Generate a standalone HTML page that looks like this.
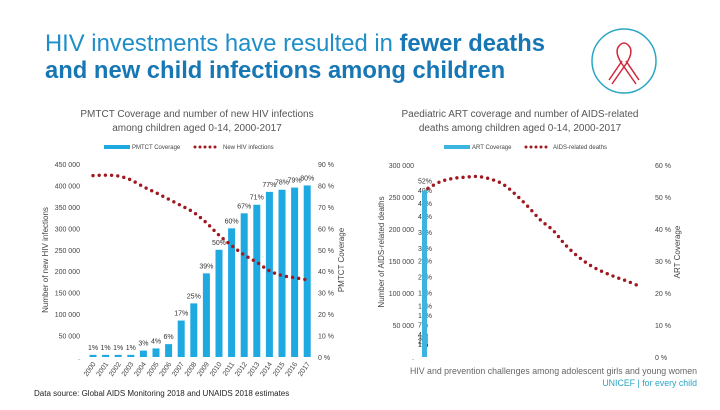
<!DOCTYPE html>
<html><head><meta charset="utf-8"><style>
body{margin:0;width:720px;height:405px;background:#fff;overflow:hidden;font-family:"Liberation Sans",sans-serif}
svg text{font-family:"Liberation Sans",sans-serif}
</style></head><body>
<svg width="720" height="405" viewBox="0 0 720 405">
<text x="45" y="51" font-size="23.8" fill="#1f8ec8">HIV investments have resulted in <tspan font-weight="bold" fill="#1777b4">fewer deaths</tspan></text>
<text x="45" y="78" font-size="23.8" font-weight="bold" fill="#1777b4">and new child infections among children</text>
<g>
<circle cx="624" cy="61" r="32" fill="none" stroke="#2aa6c4" stroke-width="1.5"/>
<path d="M612 84 L626 64 Q634 52 629 46 Q624 40 619 46 Q614 52 622 64 L636 84 M609 80 L622 61 M639 80 L626 61" fill="none" stroke="#d0283c" stroke-width="1.5"/>
</g>
<text x="197" y="117" font-size="10" fill="#555" text-anchor="middle">PMTCT Coverage and number of new HIV infections<tspan x="197" dy="14">among children aged 0-14, 2000-2017</tspan></text>
<text x="520" y="117" font-size="10" fill="#555" text-anchor="middle">Paediatric ART coverage and number of AIDS-related<tspan x="520" dy="14">deaths among children aged 0-14, 2000-2017</tspan></text>
<g id="left"></g>
<g id="right"></g>
<text x="34" y="396" font-size="8" fill="#222">Data source: Global AIDS Monitoring 2018 and UNAIDS 2018 estimates</text>
<text x="697" y="374" font-size="8.8" fill="#666" text-anchor="end">HIV and prevention challenges among adolescent girls and young women</text>
<text x="697" y="386" font-size="8.8" fill="#2aa6c4" text-anchor="end">UNICEF | for every child</text>
</svg>
<script>
const years=["2000","2001","2002","2003","2004","2005","2006","2007","2008","2009","2010","2011","2012","2013","2014","2015","2016","2017"];
const pmtctCoverage=[1,1,1,1,3,4,6,17,25,39,50,60,67,71,77,78,79,80];
const newInfections=[423000,424000,422000,413000,397000,383000,368000,353000,337000,313000,284000,260000,238000,221000,201000,190000,185000,180000];
const leftTicks=[0,50000,100000,150000,200000,250000,300000,350000,400000,450000];
const leftPctTicks=[0,10,20,30,40,50,60,70,80,90];
const artCoverage=[1,1,1,2,3,4,7,10,13,17,22,27,31,36,41,45,49,52];
const aidsDeaths=[263600,274000,279000,281000,282000,278000,270000,254000,235000,214000,198000,175000,157000,143000,133000,125000,118000,110000];
const rightTicks=[0,50000,100000,150000,200000,250000,300000];
const rightPctTicks=[0,10,20,30,40,50,60];
const NS="http://www.w3.org/2000/svg";
function mk(p,t,a,txt){const e=document.createElementNS(NS,t);for(const k in a)e.setAttribute(k,a[k]);if(txt!==undefined)e.textContent=txt;p.appendChild(e);return e;}
function fmt(v){if(v===0)return ".";const s=String(v);return s.slice(0,s.length-3)+" "+s.slice(-3);}
function path(pts){let d="M"+pts[0][0]+" "+pts[0][1];for(let i=1;i<pts.length;i++){const p0=pts[i-2]||pts[i-1],p1=pts[i-1],p2=pts[i],p3=pts[i+1]||p2;d+=" C"+(p1[0]+(p2[0]-p0[0])/6)+" "+(p1[1]+(p2[1]-p0[1])/6)+" "+(p2[0]-(p3[0]-p1[0])/6)+" "+(p2[1]-(p3[1]-p1[1])/6)+" "+p2[0]+" "+p2[1];}return d;}
// LEFT
const L=document.getElementById('left');
const y0=357,yT=164;
const yL=v=>y0-(v/450000)*(y0-yT);
const yLp=v=>y0-(v/90)*(y0-yT);
const xL=i=>93+i*12.6;
leftTicks.forEach(t=>{const e=mk(L,'text',{x:80,y:yL(t)+3,'font-size':7,fill:'#444','text-anchor':'end'},fmt(t));

});
leftPctTicks.forEach(t=>{const e=mk(L,'text',{x:318,y:yLp(t)+3,'font-size':7,fill:'#444'},t+" %");

});
pmtctCoverage.forEach((v,i)=>{const b=mk(L,'rect',{x:xL(i)-3.5,y:yLp(v),width:7,height:y0-yLp(v),fill:'#1ea9e1'});


const l=mk(L,'text',{x:xL(i),y:yLp(v)-5,'font-size':7,fill:'#333','text-anchor':'middle'},v+"%");


const x=mk(L,'text',{x:xL(i)+3,y:364,'font-size':7,fill:'#444','text-anchor':'end',transform:`rotate(-55 ${xL(i)+3} 364)`},years[i]);

});
const lp=mk(L,'path',{d:path(newInfections.map((v,i)=>[xL(i),yL(v)])),fill:'none',stroke:'#a01820','stroke-width':3.4,'stroke-linecap':'round','stroke-dasharray':'0 6.2'});


let t=mk(L,'text',{x:0,y:0,'font-size':8,fill:'#444','text-anchor':'middle',transform:'translate(48 260) rotate(-90)'},'Number of new HIV infections');

t=mk(L,'text',{x:0,y:0,'font-size':8,fill:'#444','text-anchor':'middle',transform:'translate(344 260) rotate(-90)'},'PMTCT Coverage');

let g=mk(L,'g',{});
mk(g,'rect',{x:104,y:145,width:26,height:4,fill:'#1ea9e1'});mk(g,'text',{x:132,y:149,'font-size':6,fill:'#444'},'PMTCT Coverage');
mk(g,'line',{x1:195,y1:147,x2:220,y2:147,stroke:'#a01820','stroke-width':3,'stroke-linecap':'round','stroke-dasharray':'0 5'});mk(g,'text',{x:223,y:149,'font-size':6,fill:'#444'},'New HIV infections');
// RIGHT
const R=document.getElementById('right');
const r0=357,rT=165;
const yR=v=>r0-(v/300000)*(r0-rT);
const yRp=v=>r0-(v/60)*(r0-rT);
const xR=i=>428+i*12.5;
rightTicks.forEach(t=>{const e=mk(R,'text',{x:414,y:yR(t)+3,'font-size':7,fill:'#444','text-anchor':'end'},fmt(t));

});
rightPctTicks.forEach(t=>{const e=mk(R,'text',{x:655,y:yRp(t)+3,'font-size':7,fill:'#444'},t+" %");

});
artCoverage.forEach((v,i)=>{const b=mk(R,'rect',{x:422,y:yRp(v),width:5,height:r0-yRp(v),fill:'#3bb4e0'});


const l=mk(R,'text',{x:418,y:yRp(v)-7,'font-size':7,fill:'#333'},v+"%");

});
const rp=mk(R,'path',{d:path(aidsDeaths.map((v,i)=>[xR(i),yR(v)])),fill:'none',stroke:'#a01820','stroke-width':3.4,'stroke-linecap':'round','stroke-dasharray':'0 6.2'});


t=mk(R,'text',{x:0,y:0,'font-size':8,fill:'#444','text-anchor':'middle',transform:'translate(384 252) rotate(-90)'},'Number of AIDS-related deaths');

t=mk(R,'text',{x:0,y:0,'font-size':8,fill:'#444','text-anchor':'middle',transform:'translate(680 252) rotate(-90)'},'ART Coverage');

g=mk(R,'g',{});
mk(g,'rect',{x:444,y:145,width:26,height:4,fill:'#3bb4e0'});mk(g,'text',{x:472,y:149,'font-size':6,fill:'#444'},'ART Coverage');
mk(g,'line',{x1:526,y1:147,x2:550,y2:147,stroke:'#a01820','stroke-width':3,'stroke-linecap':'round','stroke-dasharray':'0 5'});mk(g,'text',{x:553,y:149,'font-size':6,fill:'#444'},'AIDS-related deaths');
</script>
</body></html>
